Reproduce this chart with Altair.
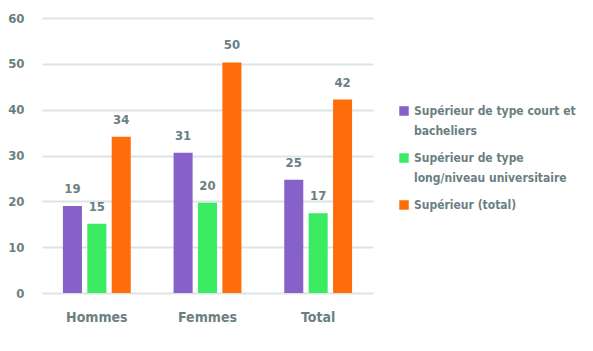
import altair as alt
import pandas as pd

groups = ["Hommes", "Femmes", "Total"]
series = [
    "Supérieur de type court et bacheliers",
    "Supérieur de type long/niveau universitaire",
    "Supérieur (total)",
]
court = [19.0, 30.6, 24.7]
long_ = [15.1, 19.7, 17.4]
total = [34.1, 50.3, 42.2]
colors = ["#8661c9", "#3bec62", "#ff6c0a"]

rows = []
for i, g in enumerate(groups):
    for s, vals in zip(series, [court, long_, total]):
        rows.append({"groupe": g, "serie": s, "valeur": vals[i]})
df = pd.DataFrame(rows)

FONT = "DejaVu Sans Condensed, Roboto, sans-serif"
TXT = "#6b7f82"

label_expr = (
    "datum.label == 'Supérieur de type court et bacheliers' ? ['Supérieur de type court et', 'bacheliers'] : "
    "datum.label == 'Supérieur de type long/niveau universitaire' ? ['Supérieur de type', 'long/niveau universitaire'] : datum.label"
)

base = alt.Chart(df).encode(
    x=alt.X("groupe:N", sort=groups, title=None,
            scale=alt.Scale(paddingInner=0.387, paddingOuter=0.189),
            axis=alt.Axis(labelAngle=0, domain=False, ticks=False, grid=False, labelPadding=22,
                          labelFont=FONT, labelFontSize=14, labelFontWeight="bold", labelColor=TXT)),
    xOffset=alt.XOffset("serie:N", sort=series, scale=alt.Scale(paddingInner=0.22)),
    y=alt.Y("valeur:Q", title=None, scale=alt.Scale(domain=[0, 60]),
            axis=alt.Axis(values=[0, 10, 20, 30, 40, 50, 60], domain=False, ticks=False, labelPadding=18,
                          labelOffset=5,
                          labelFont=FONT, labelFontSize=13, labelFontWeight="bold", labelColor=TXT,
                          gridColor="#dde4e4", gridWidth=2)),
)

bars = base.mark_bar().encode(
    color=alt.Color("serie:N", sort=series, title=None,
                    scale=alt.Scale(domain=series, range=colors),
                    legend=alt.Legend(orient="none", legendX=356, legendY=87,
                                      symbolType="square", symbolSize=90, symbolStrokeWidth=0,
                                      labelFont=FONT, labelFontSize=12, labelFontWeight="bold",
                                      labelColor=TXT, labelExpr=label_expr, labelLimit=250,
                                      labelBaseline="top", rowPadding=15, labelOffset=4,
                                      gridAlign="all"))
)

labels = base.mark_text(dy=-17, font=FONT, fontSize=13, fontWeight="bold", color=TXT).encode(
    text=alt.Text("valeur:Q", format=".0f")
)

chart = (bars + labels).properties(
    width=331, height=275,
    autosize=alt.AutoSizeParams(type="none"),
    padding={"left": 42, "top": 18, "right": 220, "bottom": 58},
).configure(
    background="white",
    style={"guide-label": {"lineHeight": 20, "dy": -5}},
).configure_view(stroke=None, strokeWidth=0)

chart.save("out.html", embed_options={"renderer": "svg", "actions": False})
